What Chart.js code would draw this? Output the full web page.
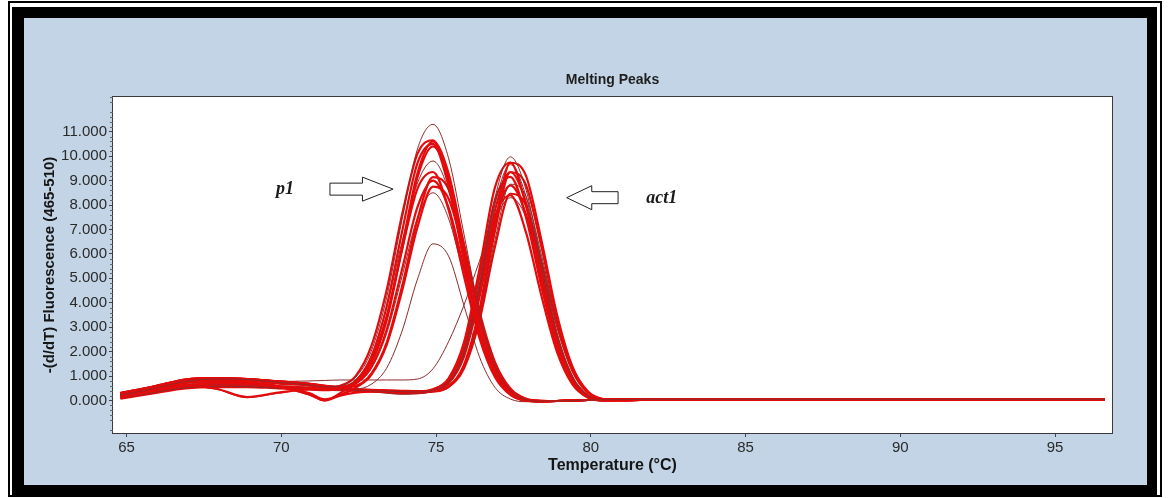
<!DOCTYPE html>
<html>
<head>
<meta charset="utf-8">
<script src="https://cdn.jsdelivr.net/npm/chart.js@4.4.1/dist/chart.umd.min.js"></script>
<style>
html,body{margin:0;padding:0;background:#fff;}
#wrap{position:relative;width:1171px;height:498px;overflow:hidden;background:#fff;}
#thin{position:absolute;left:8px;top:1px;width:1154px;height:496px;border:2px solid #000;box-sizing:border-box;}
#thick{position:absolute;left:12px;top:7px;width:1145px;height:488px;border-style:solid;border-color:#000;border-width:11px 10px 10px 12px;box-sizing:border-box;background:#c2d4e5;}
#c{position:absolute;left:0;top:0;}
</style>
</head>
<body>
<div id="wrap"><div id="thin"></div><div id="thick"></div><canvas id="c" width="1171" height="498"></canvas></div>
<script>
// ---- data (temperature in °C, -(d/dT) fluorescence) ----
const temps = [64.8, 65.9, 66.9, 67.9, 68.9, 69.9, 70.9, 71.4, 71.9, 72.4, 72.9, 73.4, 73.9, 74.4, 74.9, 75.4, 75.9, 76.4, 76.9, 77.4, 77.9, 78.4, 78.9, 79.4, 79.9, 80.4, 80.9, 81.9, 84.4, 88.4, 92.4, 96.6];

// p1 product peaks (~74.9 °C)
const p1_01 = [0.22,0.50,0.78,0.88,0.86,0.74,0.64,0.56, 0.60,0.95,2.00,4.20,7.40,10.30,11.30,9.93,6.81,3.61,1.44,0.41,0.04,-0.03,-0.02,0.0,0.02,0.03,0.04, 0.05,0.05,0.05,0.05,0.05];
const p1_02 = [0.12,0.40,0.62,0.70,0.68,0.58,0.52,0.47, 0.60,1.00,2.20,4.50,7.60,10.10,10.65,8.91,5.81,2.93,1.10,0.28,0.0,-0.04,-0.02,0.0,0.02,0.03,0.04, 0.04,0.04,0.04,0.04,0.04];
const p1_03 = [0.30,0.58,0.86,0.92,0.88,0.78,0.68,0.60, 0.57,0.74,1.53,3.34,6.29,9.31,10.60,9.31,6.38,3.38,1.35,0.38,0.03,-0.03,-0.02,0.0,0.02,0.03,0.04, 0.05,0.05,0.05,0.05,0.05];
const p1_04 = [0.26,0.52,0.74,0.80,0.74,0.58,0.25,0.0, 0.30,0.77,1.77,3.84,6.91,9.72,10.50,8.78,5.72,2.88,1.08,0.27,0.0,-0.04,-0.02,0.0,0.02,0.03,0.04, 0.06,0.06,0.06,0.06,0.06];
const p1_05 = [0.20,0.47,0.74,0.84,0.82,0.70,0.62,0.54, 0.54,0.73,1.51,3.28,6.18,9.14,10.40,9.13,6.26,3.32,1.32,0.37,0.03,-0.03,-0.02,0.0,0.02,0.03,0.04, 0.05,0.05,0.05,0.05,0.05];
const p1_06 = [0.15,0.40,0.60,0.66,0.64,0.57,0.52,0.48, 0.55,0.85,1.80,3.80,6.50,8.90,9.80,8.60,5.90,3.12,1.24,0.34,0.03,-0.03,-0.02,0.0,0.02,0.03,0.04, 0.04,0.04,0.04,0.04,0.04];
const p1_07 = [0.18,0.45,0.62,0.48,0.14,0.32,0.45,0.42, 0.49,0.80,1.64,3.45,6.18,8.67,9.35,7.82,5.10,2.56,0.96,0.23,-0.01,-0.04,-0.02,0.0,0.02,0.03,0.04, 0.05,0.05,0.05,0.05,0.05];
const p1_08 = [0.27,0.55,0.82,0.90,0.86,0.75,0.66,0.58, 0.54,0.60,1.09,2.36,4.67,7.42,9.14,8.65,6.37,3.64,1.58,0.49,0.07,-0.01,-0.02,0.0,0.02,0.03,0.04, 0.05,0.05,0.05,0.05,0.05];
const p1_09 = [0.24,0.52,0.80,0.90,0.87,0.76,0.65,0.57, 0.53,0.69,1.35,2.88,5.37,7.92,9.00,7.90,5.41,2.86,1.13,0.31,0.02,-0.03,-0.02,0.0,0.02,0.03,0.04, 0.05,0.05,0.05,0.05,0.05];
const p1_10 = [0.24,0.50,0.72,0.78,0.72,0.56,0.30,0.05, 0.23,0.52,1.04,2.27,4.48,7.10,8.75,8.27,6.09,3.48,1.51,0.46,0.07,-0.01,-0.02,0.0,0.02,0.03,0.04, 0.06,0.06,0.06,0.06,0.06];
const p1_11 = [0.10,0.33,0.52,0.58,0.57,0.50,0.46,0.44, 0.51,0.68,1.30,2.74,5.08,7.49,8.50,7.46,5.11,2.70,1.06,0.28,0.01,-0.03,-0.02,0.0,0.02,0.03,0.04, 0.04,0.04,0.04,0.04,0.04];
const p1_12 = [0.22,0.50,0.78,0.88,0.86,0.74,0.64,0.56, 0.47,0.47,0.66,1.32,2.84,4.97,6.41,5.92,3.89,1.79,0.54,0.06,-0.05,-0.05,-0.02,0.0,0.02,0.03,0.04, 0.05,0.05,0.05,0.05,0.05];

// act1 product peaks (~77.4 °C)
const act1_01 = [0.22,0.50,0.78,0.88,0.86,0.74,0.64,0.56, 0.49,0.42,0.40,0.38,0.36,0.35, 0.42,0.75,1.99,4.75,8.28,9.97,8.65,5.70,2.82,1.02,0.22,0.02,0.01, 0.03,0.05,0.05,0.05,0.05];
const act1_02 = [0.30,0.58,0.86,0.92,0.88,0.78,0.68,0.60, 0.52,0.45,0.42,0.40,0.38,0.36, 0.38,0.58,1.46,3.72,7.21,9.73,9.21,6.58,3.55,1.41,0.38,0.06,0.02, 0.03,0.05,0.05,0.05,0.05];
const act1_03 = [0.12,0.36,0.56,0.63,0.62,0.55,0.50,0.46, 0.45,0.40,0.38,0.36,0.34,0.33, 0.45,0.90,2.38,5.37,8.71,9.74,8.00,4.99,2.34,0.79,0.15,0.0,0.0, 0.03,0.04,0.04,0.04,0.04];
const act1_04 = [0.16,0.43,0.60,0.46,0.12,0.30,0.44,0.42, 0.40,0.40,0.38,0.30,0.25,0.28, 0.38,0.72,1.91,4.60,8.02,9.65,8.37,5.51,2.73,0.99,0.21,0.02,0.01, 0.03,0.05,0.05,0.05,0.05];
const act1_05 = [0.20,0.47,0.74,0.84,0.82,0.70,0.62,0.54, 0.48,0.42,0.40,0.38,0.36,0.35, 0.38,0.57,1.41,3.58,6.92,9.34,8.83,6.31,3.40,1.35,0.36,0.05,0.02, 0.04,0.06,0.06,0.06,0.06];
const act1_06 = [0.26,0.52,0.74,0.80,0.74,0.58,0.25,0.0, 0.20,0.32,0.36,0.36,0.35,0.34, 0.40,0.72,1.88,4.46,7.77,9.35,8.11,5.34,2.64,0.95,0.21,0.01,0.01, 0.03,0.05,0.05,0.05,0.05];
const act1_07 = [0.27,0.55,0.82,0.90,0.86,0.75,0.66,0.58, 0.50,0.46,0.44,0.42,0.40,0.38, 0.46,0.87,2.25,5.06,8.18,9.15,7.51,4.68,2.19,0.74,0.14,0.0,0.0, 0.03,0.04,0.04,0.04,0.04];
const act1_08 = [0.15,0.43,0.66,0.74,0.71,0.61,0.55,0.49, 0.45,0.40,0.38,0.35,0.33,0.32, 0.36,0.55,1.35,3.40,6.56,8.85,8.37,5.98,3.22,1.28,0.34,0.05,0.02, 0.03,0.05,0.05,0.05,0.05];
const act1_09 = [0.24,0.52,0.80,0.90,0.87,0.76,0.65,0.57, 0.49,0.42,0.40,0.38,0.36,0.35, 0.41,0.70,1.79,4.21,7.32,8.80,7.63,5.02,2.48,0.89,0.19,0.01,0.01, 0.03,0.05,0.05,0.05,0.05];
const act1_10 = [0.30,0.58,0.86,0.92,0.88,0.78,0.68,0.60, 0.52,0.46,0.43,0.40,0.38,0.36, 0.37,0.55,1.31,3.26,6.28,8.46,7.99,5.71,3.08,1.22,0.32,0.04,0.02, 0.04,0.06,0.06,0.06,0.06];
const act1_11 = [0.08,0.30,0.50,0.55,0.55,0.50,0.46,0.44, 0.44,0.40,0.37,0.33,0.30,0.30, 0.41,0.82,2.09,4.66,7.52,8.40,6.90,4.30,2.01,0.67,0.12,-0.01,0.0, 0.03,0.04,0.04,0.04,0.04];
const act1_12 = [0.28,0.55,0.80,0.86,0.82,0.78,0.80,0.82, 0.84,0.84,0.84,0.84,0.84,0.88, 1.30,2.40,3.90,5.70,7.40,8.30,7.50,5.10,2.60,0.95,0.20,0.0,0.0, 0.03,0.05,0.05,0.05,0.05];

const xTickValues = [65, 70, 75, 80, 85, 90, 95];
const yTickValues = [0, 1, 2, 3, 4, 5, 6, 7, 8, 9, 10, 11];

const p1Series = [p1_01, p1_02, p1_03, p1_04, p1_05, p1_06, p1_07, p1_08, p1_09, p1_10, p1_11, p1_12];
const act1Series = [act1_01, act1_02, act1_03, act1_04, act1_05, act1_06, act1_07, act1_08, act1_09, act1_10, act1_11, act1_12];

// annotation anchors (data coordinates)
const noteTexts = ['p1', 'act1'];
const noteX = [70.12, 82.29];
const noteY = [8.66, 8.29];
const arrowTail = [71.57, 80.88];
const arrowBase = [72.62, 80.03];
const arrowTip = [73.61, 79.22];
const arrowY = [8.65, 8.3];

// ---- styling ----
const thinP1 = [0, 5, 10, 11];
const thinAct = [0, 3, 7, 11];
const RED = '#e30b0b';
const DARK = '#8e2b2b';

const datasets = [];
p1Series.forEach((vals, i) => {
  const thin = thinP1.includes(i);
  datasets.push({ label: 'p1 ' + (i + 1), data: vals.map((v, j) => ({ x: temps[j], y: v })),
    borderColor: thin ? DARK : RED, borderWidth: thin ? 1 : 2.2 });
});
act1Series.forEach((vals, i) => {
  const thin = thinAct.includes(i);
  datasets.push({ label: 'act1 ' + (i + 1), data: vals.map((v, j) => ({ x: temps[j], y: v })),
    borderColor: thin ? DARK : RED, borderWidth: thin ? 1 : 2.2 });
});
datasets.forEach(d => { d.pointRadius = 0; d.fill = false; d.cubicInterpolationMode = 'monotone'; });

const decor = {
  id: 'decor',
  beforeDraw(chart) {
    const { ctx, chartArea: a } = chart;
    ctx.save();
    ctx.fillStyle = '#ffffff';
    ctx.fillRect(a.left, a.top, a.right - a.left, a.bottom - a.top);
    ctx.restore();
  },
  afterDatasetsDraw(chart) {
    const { ctx, chartArea: a, scales } = chart;
    const xs = scales.x, ys = scales.y;
    ctx.save();
    ctx.strokeStyle = '#3a3a3a';
    ctx.lineWidth = 1;
    ctx.strokeRect(Math.round(a.left) - 0.5, Math.round(a.top) - 0.5, Math.round(a.right - a.left) + 1, Math.round(a.bottom - a.top) + 1);
    // minor y ticks
    ctx.beginPath();
    for (let k = Math.ceil(ys.min * 5); k <= Math.floor(ys.max * 5); k++) {
      if (k % 5 === 0) continue;
      const py = Math.round(ys.getPixelForValue(k / 5)) + 0.5;
      ctx.moveTo(a.left - 3, py); ctx.lineTo(a.left, py);
    }
    ctx.strokeStyle = '#666';
    ctx.stroke();
    // arrows
    for (let i = 0; i < arrowTip.length; i++) {
      const t = xs.getPixelForValue(arrowTail[i]);
      const b = xs.getPixelForValue(arrowBase[i]);
      const p = xs.getPixelForValue(arrowTip[i]);
      const cy = ys.getPixelForValue(arrowY[i]);
      const sh = 6, hh = 12;
      ctx.beginPath();
      ctx.moveTo(t, cy - sh); ctx.lineTo(b, cy - sh); ctx.lineTo(b, cy - hh);
      ctx.lineTo(p, cy); ctx.lineTo(b, cy + hh); ctx.lineTo(b, cy + sh); ctx.lineTo(t, cy + sh);
      ctx.closePath();
      ctx.fillStyle = '#fff'; ctx.fill();
      ctx.strokeStyle = '#222'; ctx.lineWidth = 1; ctx.stroke();
    }
    // labels
    ctx.font = 'italic bold 18px "Liberation Serif", "DejaVu Serif", serif';
    ctx.fillStyle = '#1a1a1a';
    ctx.textAlign = 'center';
    ctx.textBaseline = 'middle';
    for (let i = 0; i < noteTexts.length; i++) {
      ctx.fillText(noteTexts[i], xs.getPixelForValue(noteX[i]), ys.getPixelForValue(noteY[i]));
    }
    ctx.restore();
  }
};

const FONT = '"Liberation Sans", Arial, sans-serif';

new Chart(document.getElementById('c'), {
  type: 'line',
  data: { datasets },
  options: {
    responsive: false,
    animation: false,
    events: [],
    layout: { padding: { left: 36, right: 59, top: 30, bottom: 20 } },
    plugins: {
      legend: { display: false },
      tooltip: { enabled: false },
      title: {
        display: true, text: 'Melting Peaks', fullSize: false, color: '#1e1e1e',
        font: { family: FONT, size: 14, weight: 'bold' },
        padding: { top: 41.6, bottom: 8.6 }
      }
    },
    scales: {
      x: {
        type: 'linear', min: 64.56, max: 96.84,
        afterFit(s) { s.height = 45; },
        afterBuildTicks(s) { s.ticks = xTickValues.map(v => ({ value: v })); },
        border: { display: false },
        grid: { drawOnChartArea: false, drawTicks: true, tickLength: 4, tickColor: '#444' },
        ticks: { autoSkip: false, maxRotation: 0, padding: 2, color: '#2a2a2a', font: { family: FONT, size: 15 },
          callback: v => String(v) },
        title: { display: true, text: 'Temperature (°C)', color: '#151515',
          font: { family: FONT, size: 16, weight: 'bold' }, padding: { top: 0, bottom: 2.7 } }
      },
      y: {
        type: 'linear', min: -1.33, max: 12.42,
        afterFit(s) { s.width = 77; },
        afterBuildTicks(s) { s.ticks = yTickValues.map(v => ({ value: v })); },
        border: { display: false },
        grid: { drawOnChartArea: false, drawTicks: true, tickLength: 4, tickColor: '#444' },
        ticks: { autoSkip: false, padding: 2, color: '#2a2a2a', font: { family: FONT, size: 15 },
          callback: v => Number(v).toFixed(3) },
        title: { display: true, text: '-(d/dT) Fluorescence (465-510)', color: '#151515',
          font: { family: FONT, size: 15, weight: 'bold' }, padding: { top: 5, bottom: 0 } }
      }
    }
  },
  plugins: [decor]
});
</script>
</body>
</html>
